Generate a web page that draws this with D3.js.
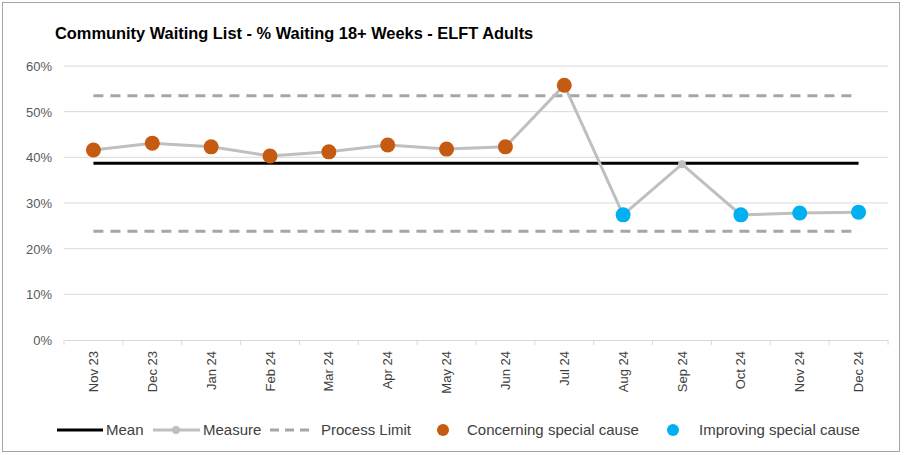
<!DOCTYPE html>
<html>
<head>
<meta charset="utf-8">
<script src="https://cdn.jsdelivr.net/npm/d3@7"></script>
<style>
  body { margin: 0; background: #fff; }
  text { font-family: "Liberation Sans", Arial, sans-serif; }
</style>
</head>
<body>
<script>
const months = ["Nov 23", "Dec 23", "Jan 24", "Feb 24", "Mar 24", "Apr 24", "May 24",
  "Jun 24", "Jul 24", "Aug 24", "Sep 24", "Oct 24", "Nov 24", "Dec 24"];
const measure = [41.6, 43.1, 42.3, 40.3, 41.2, 42.7, 41.8, 42.3, 55.8, 27.4, 38.5, 27.4, 27.8, 28.0];
// c = concerning, i = improving, "" = common cause
const causes = ["c", "c", "c", "c", "c", "c", "c", "c", "c", "i", "", "i", "i", "i"];
const meanValue = 38.7;
const upperLimit = 53.5;
const lowerLimit = 23.8;
const yTicks = [0, 10, 20, 30, 40, 50, 60];

const width = 904, height = 455;
const margin = { left: 64, right: 16, top: 66, bottom: 115 };

const svg = d3.select("body").append("svg")
  .attr("width", width)
  .attr("height", height);

// chart frame
svg.append("rect")
  .attr("x", 2.5).attr("y", 2.5)
  .attr("width", 897).attr("height", 449)
  .attr("fill", "#fff")
  .attr("stroke", "#a6a6a6");

svg.append("text")
  .attr("x", 55).attr("y", 39)
  .attr("font-family", "Lato, sans-serif")
  .attr("font-weight", "bold")
  .attr("font-size", 16.4)
  .attr("fill", "#000")
  .text("Community Waiting List - % Waiting 18+ Weeks - ELFT Adults");

const x = d3.scaleBand()
  .domain(months)
  .range([margin.left, width - margin.right]);

const y = d3.scaleLinear()
  .domain([0, 60])
  .range([height - margin.bottom, margin.top]);

const cx = d => x(d) + x.bandwidth() / 2;

// gridlines
svg.append("g")
  .selectAll("line")
  .data(yTicks.slice(1))
  .enter()
  .append("line")
  .attr("x1", margin.left).attr("x2", width - margin.right)
  .attr("y1", d => y(d)).attr("y2", d => y(d))
  .attr("stroke", "#d9d9d9")
  .attr("stroke-width", 1);

// y labels
svg.append("g")
  .selectAll("text")
  .data(yTicks)
  .enter()
  .append("text")
  .attr("x", 52)
  .attr("y", d => y(d) + 5)
  .attr("text-anchor", "end")
  .attr("font-size", 13)
  .attr("fill", "#595959")
  .text(d => d + "%");

// x axis
const xAxis = svg.append("g")
  .attr("transform", `translate(0,${y(0)})`)
  .call(d3.axisBottom(x).tickSize(0).tickFormat(""));
xAxis.select(".domain").attr("stroke", "#d9d9d9");

svg.append("g")
  .selectAll("line")
  .data(months.concat([null]))
  .enter()
  .append("line")
  .attr("x1", (d, i) => margin.left + i * x.bandwidth())
  .attr("x2", (d, i) => margin.left + i * x.bandwidth())
  .attr("y1", y(0)).attr("y2", y(0) + 5)
  .attr("stroke", "#d9d9d9");

svg.append("g")
  .selectAll("text")
  .data(months)
  .enter()
  .append("text")
  .attr("transform", d => `translate(${cx(d) + 4.5},${y(0) + 11}) rotate(-90)`)
  .attr("text-anchor", "end")
  .attr("font-size", 13)
  .attr("fill", "#404040")
  .text(d => d);

// process limits
[upperLimit, lowerLimit].forEach(v => {
  svg.append("line")
    .attr("x1", cx(months[0])).attr("x2", cx(months[months.length - 1]))
    .attr("y1", y(v)).attr("y2", y(v))
    .attr("stroke", "#a6a6a6")
    .attr("stroke-width", 3)
    .attr("stroke-dasharray", "10,7");
});

// mean
svg.append("line")
  .attr("x1", cx(months[0])).attr("x2", cx(months[months.length - 1]))
  .attr("y1", y(meanValue)).attr("y2", y(meanValue))
  .attr("stroke", "#000")
  .attr("stroke-width", 3);

// measure line
const line = d3.line()
  .x((d, i) => cx(months[i]))
  .y(d => y(d));

svg.append("path")
  .datum(measure)
  .attr("d", line)
  .attr("fill", "none")
  .attr("stroke", "#bfbfbf")
  .attr("stroke-width", 3);

const colour = { c: "#c55a11", i: "#00b0f0", "": "#bfbfbf" };

svg.append("g")
  .selectAll("circle")
  .data(measure)
  .enter()
  .append("circle")
  .attr("cx", (d, i) => cx(months[i]))
  .attr("cy", d => y(d))
  .attr("r", (d, i) => causes[i] === "" ? 4 : 7.5)
  .attr("fill", (d, i) => colour[causes[i]]);

// legend
const ly = 430;
const legend = svg.append("g").attr("font-size", 15).attr("fill", "#404040");

legend.append("line").attr("x1", 57).attr("x2", 103).attr("y1", ly).attr("y2", ly)
  .attr("stroke", "#000").attr("stroke-width", 3);
legend.append("text").attr("x", 106).attr("y", ly + 5).text("Mean");

legend.append("line").attr("x1", 153).attr("x2", 200).attr("y1", ly).attr("y2", ly)
  .attr("stroke", "#bfbfbf").attr("stroke-width", 3);
legend.append("circle").attr("cx", 176).attr("cy", ly).attr("r", 4).attr("fill", "#bfbfbf");
legend.append("text").attr("x", 203).attr("y", ly + 5).text("Measure");

legend.append("line").attr("x1", 270).attr("x2", 315).attr("y1", ly).attr("y2", ly)
  .attr("stroke", "#a6a6a6").attr("stroke-width", 3).attr("stroke-dasharray", "9,6");
legend.append("text").attr("x", 321).attr("y", ly + 5).text("Process Limit");

legend.append("circle").attr("cx", 443).attr("cy", ly).attr("r", 6).attr("fill", colour.c);
legend.append("text").attr("x", 467).attr("y", ly + 5).text("Concerning special cause");

legend.append("circle").attr("cx", 673).attr("cy", ly).attr("r", 6).attr("fill", colour.i);
legend.append("text").attr("x", 699).attr("y", ly + 5).text("Improving special cause");
</script>
</body>
</html>
